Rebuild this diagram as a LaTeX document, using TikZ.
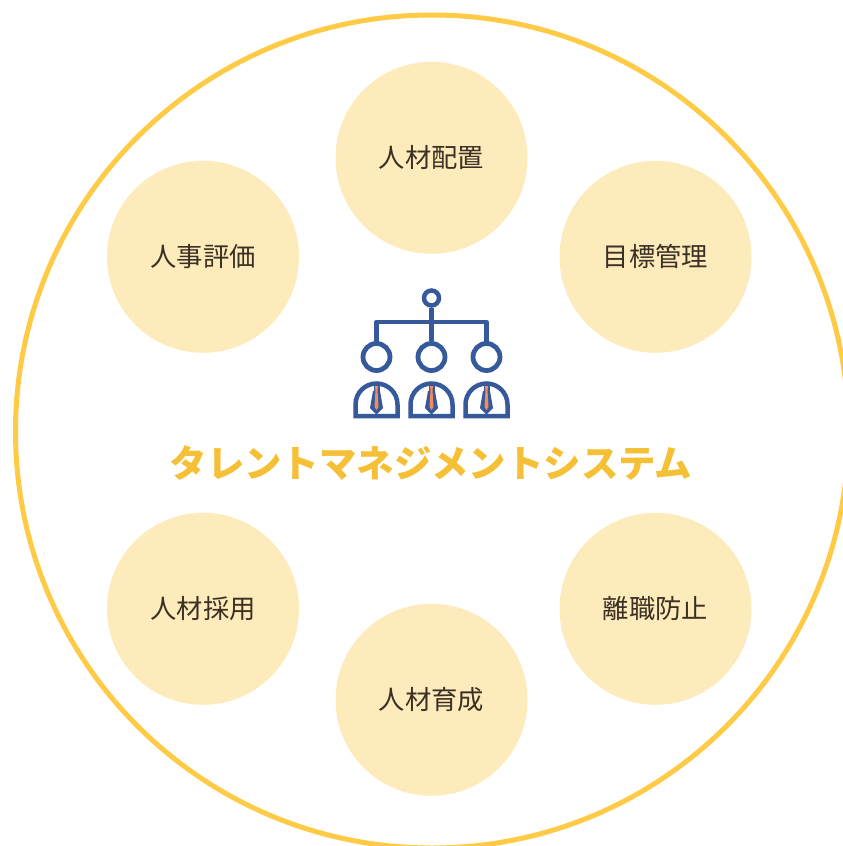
\documentclass[tikz,border=0pt]{standalone}
\usepackage{fontspec}
\usepackage{xcolor}
\setmainfont{Noto Sans CJK JP}
\usetikzlibrary{positioning}
\definecolor{myyellow}{RGB}{255,203,70}
\definecolor{mycream}{RGB}{254,235,187}
\definecolor{mytitle}{RGB}{245,191,54}
\definecolor{myblue}{RGB}{54,89,155}
\definecolor{myorange}{RGB}{245,138,92}
\definecolor{myink}{RGB}{58,48,36}
\tikzset{
  topic/.style={circle, fill=mycream, minimum size=192pt, inner sep=0pt, text=myink, font=\fontsize{26.3}{30}\selectfont},
  head/.style={circle, draw=myblue, line width=4.8pt, minimum size=27pt, inner sep=0pt},
  wire/.style={draw=myblue, line width=4.8pt}
}

\begin{document}
\begin{tikzpicture}[x=1pt, y=-1pt]
        \useasboundingbox (0,0) rectangle (843,846);
        \clip (0,0) rectangle (843,846);
        \node[circle, draw=myyellow, line width=5pt, minimum size=833pt, inner sep=0pt] (ring) at (432,431.5) {};
        % topics
        \node[topic] (A) at (431.5,157.8) {人材配置};
        \node[topic] (B) at (655.5,256.8) {目標管理};
        \node[topic] (C) at (655.5,608.8) {離職防止};
        \node[topic] (D) at (431.5,699.8) {人材育成};
        \node[topic] (E) at (203,608.8) {人材採用};
        \node[topic] (F) at (203,256.8) {人事評価};
        % org chart
        \node[head, minimum size=15pt, line width=4.5pt] (T) at (431.5,298) {};
        \node[head] (H1) at (376.5,357) {};
        \node[head] (H2) at (431.5,357) {};
        \node[head] (H3) at (486.5,357) {};
        \path[wire, line cap=round, line join=round] (H1) -- (376.5,322) -- (486.5,322) -- (H3);
        \path[wire] (T) -- (H2);
        \foreach \cx in {376.5,431.5,486.5} {
          \draw[myblue, line width=4.5pt, line join=miter] (\cx-21,416) -- (\cx-21,404.5) arc[start angle=180, end angle=360, radius=21] -- (\cx+21,416) -- cycle;
          \fill[myblue] (\cx-3.5,391) -- (\cx+3.5,391) -- (\cx+6.5,408) -- (\cx,414.5) -- (\cx-6.5,408) -- cycle;
          \fill[myblue] (\cx-3,385) rectangle (\cx+3,391);
          \fill[myorange] (\cx-1.7,386) -- (\cx+1.7,386) -- (\cx+1,390) -- (\cx+2,407) -- (\cx,410) -- (\cx-2,407) -- (\cx-1,390) -- cycle;
        }
        \node[text=mytitle, font=\fontsize{37.4}{40}\selectfont\bfseries, inner sep=0pt] (title) at (431,463) {タレントマネジメントシステム};
\end{tikzpicture}
\end{document}
